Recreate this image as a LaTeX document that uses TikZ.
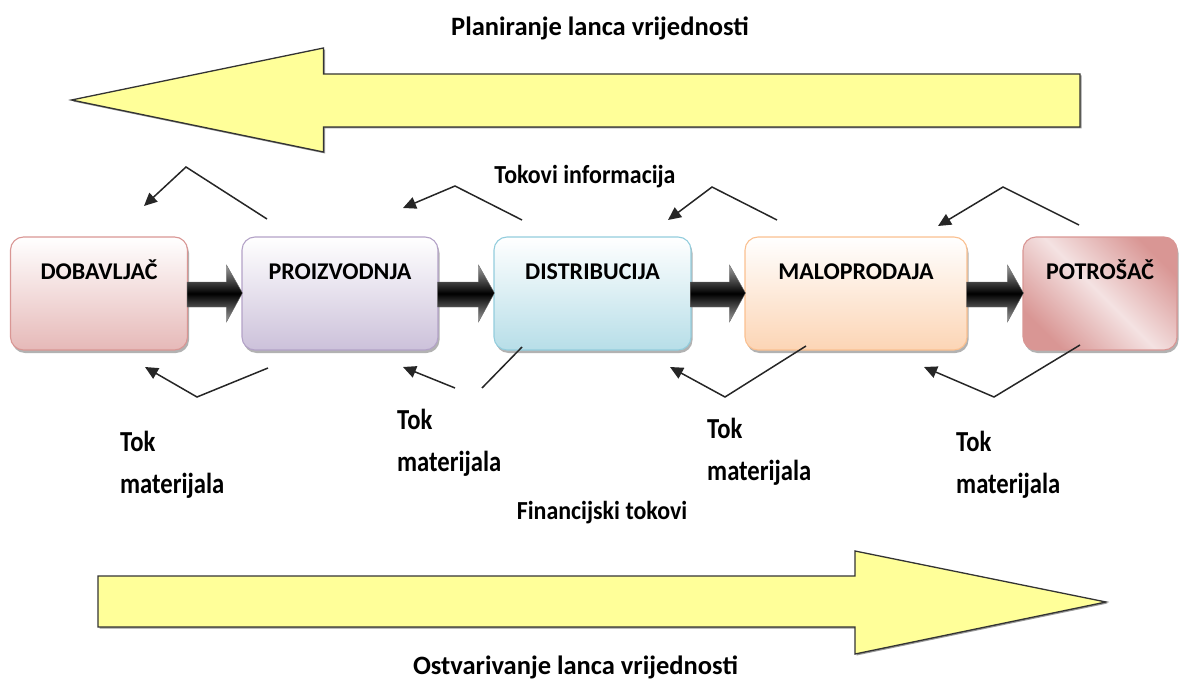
\documentclass[tikz,border=0pt]{standalone}
\usepackage{fontspec}
\setmainfont{Carlito}
\newfontfamily\tallfont[FakeStretch=0.85]{Carlito}
\newfontfamily\midfont[FakeStretch=0.92]{Carlito}
\usetikzlibrary{shadows,calc,arrows.meta}
\definecolor{yel}{HTML}{FFFF99}
\definecolor{fA}{HTML}{E6B9B8}\definecolor{bA}{HTML}{D99694}
\definecolor{fB}{HTML}{CCC1DA}\definecolor{bB}{HTML}{B3A2C7}
\definecolor{fC}{HTML}{B7DEE8}\definecolor{bC}{HTML}{93CDDD}
\definecolor{fD}{HTML}{FCD5B5}\definecolor{bD}{HTML}{FAC090}
\definecolor{fE}{HTML}{D99694}\definecolor{lE}{HTML}{F4E2E2}
\begin{document}
\begin{tikzpicture}[x=1pt,y=-1pt,
  stage/.style={rounded corners=13pt, line width=1.1pt, minimum height=113pt,
    inner xsep=0pt, inner ysep=0pt, text height=42pt, text depth=71pt,
    font=\fontsize{24}{28}\selectfont\bfseries,
    drop shadow={shadow xshift=1.5pt, shadow yshift=-3pt, opacity=0.3, fill=black}},
  bigarrow/.style={fill=yel, draw=black!80, line width=1.3pt, line join=miter,
    drop shadow={shadow xshift=1.5pt, shadow yshift=-1.5pt, opacity=0.4, fill=black}},
  blk/.style={top color=gray!75, bottom color=gray!75, middle color=black, draw=black!60, line width=0.4pt},
  flow/.style={draw=black!85, line width=1.5pt, -{Triangle[length=13pt,width=12pt]}},
  plainflow/.style={draw=black!85, line width=1.5pt},
  title/.style={font=\fontsize{26.5}{30}\selectfont\bfseries, inner sep=0pt},
  mid/.style={font=\midfont\fontsize{26}{30}\selectfont\bfseries, inner sep=0pt},
  tok/.style={font=\tallfont\fontsize{29}{42}\selectfont\bfseries, align=left, inner sep=0pt, anchor=north west}
]
\useasboundingbox (0,0) rectangle (1180,682);

% big arrows
\draw[bigarrow] (1080,74) -- (323.5,74) -- (323.5,48) -- (71.5,100) -- (323.5,152) -- (323.5,127) -- (1080,127) -- cycle;
\draw[bigarrow] (98,576) -- (855,576) -- (855,551) -- (1106,602) -- (855,654) -- (855,627) -- (98,627) -- cycle;

% stage boxes
\node[stage, draw=bA, top color=white, bottom color=fA, minimum width=177pt] (d) at (99,293.5) {DOBAVLJAČ};
\node[stage, draw=bB, top color=white, bottom color=fB, minimum width=196pt] (p) at (340,293.5) {PROIZVODNJA};
\node[stage, draw=bC, top color=white, bottom color=fC, minimum width=197pt] (s) at (592.5,293.5) {DISTRIBUCIJA};
\node[stage, draw=bD, top color=white, bottom color=fD, minimum width=222pt] (m) at (856,293.5) {MALOPRODAJA};
\node[stage, draw=bA, left color=fE, right color=fE, middle color=lE, shading angle=-45, minimum width=154pt] (c) at (1100,293.5) {POTROŠAČ};

% black connectors
\foreach \a/\b in {d/p, p/s, s/m, m/c}{
  \path[blk] let \p1=(\a.east), \p2=(\b.west) in
    (\x1-1pt,\y1+11.5pt) -- (\x2-15pt,\y1+11.5pt) -- (\x2-15pt,\y1+28.5pt) -- (\x2+1pt,\y1+0.5pt)
    -- (\x2-15pt,\y1-28.5pt) -- (\x2-15pt,\y1-13.5pt) -- (\x1-1pt,\y1-13.5pt) -- cycle;
}

% information flows (top)
\coordinate (t1a) at (267,219); \coordinate (t1b) at (186,167); \coordinate (t1c) at (144,206);
\coordinate (t2a) at (522,220); \coordinate (t2b) at (455,186); \coordinate (t2c) at (403,208);
\coordinate (t3a) at (777,220); \coordinate (t3b) at (712,187); \coordinate (t3c) at (668,220);
\coordinate (t4a) at (1079,225); \coordinate (t4b) at (1003,187); \coordinate (t4c) at (938,226);
\draw[flow] (t1a) -- (t1b) -- (t1c);
\draw[flow] (t2a) -- (t2b) -- (t2c);
\draw[flow] (t3a) -- (t3b) -- (t3c);
\draw[flow] (t4a) -- (t4b) -- (t4c);

% material flows (bottom)
\coordinate (b1a) at (268,368); \coordinate (b1b) at (197,397); \coordinate (b1c) at (145,367);
\coordinate (b2a) at (522,347); \coordinate (b2b) at (482,388); \coordinate (b2d) at (455,388); \coordinate (b2c) at (403,367);
\coordinate (b3a) at (806,346); \coordinate (b3b) at (725,397); \coordinate (b3c) at (670,367);
\coordinate (b4a) at (1080,345); \coordinate (b4b) at (994,397); \coordinate (b4c) at (924,367);
\draw[flow] (b1a) -- (b1b) -- (b1c);
\draw[plainflow] (b2a) -- (b2b);
\draw[flow] (b2d) -- (b2c);
\draw[flow] (b3a) -- (b3b) -- (b3c);
\draw[flow] (b4a) -- (b4b) -- (b4c);

% texts
\node[title] (plan) at (600,28) {Planiranje lanca vrijednosti};
\node[title] (ostv) at (575.5,667) {Ostvarivanje lanca vrijednosti};
\node[mid] (info) at (585,177) {Tokovi informacija};
\node[mid] (fin) at (602,513) {Financijski tokovi};
\node[tok] (tm1) at (120,431) {Tok\\materijala};
\node[tok] (tm2) at (397,409) {Tok\\materijala};
\node[tok] (tm3) at (707,418) {Tok\\materijala};
\node[tok] (tm4) at (956,431) {Tok\\materijala};
\end{tikzpicture}
\end{document}
